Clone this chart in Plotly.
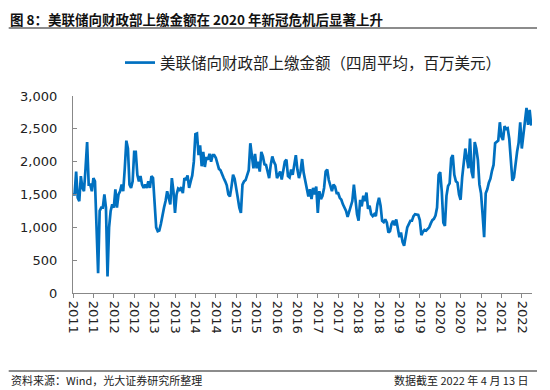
import pandas as pd
import plotly.graph_objects as go

title_text = "图 8：美联储向财政部上缴金额在 2020 年新冠危机后显著上升"
series_name = "美联储向财政部上缴金额（四周平均，百万美元）"
source_text = "资料来源：Wind，光大证券研究所整理"
asof_text = "数据截至 2022 年 4 月 13 日"

start_date = "2011-01-26"
end_date = "2022-04-13"

# biweekly readings (million USD, 4-week average), blocks of 26 points
v2011 = [1500, 1500, 1850, 1450, 1400, 1780, 1600, 1550, 1900, 2300, 1650, 1650, 1550,
         1750, 1700, 800, 300, 1250, 1300, 1300, 1500, 1300, 250, 1000, 1250, 1350]
v2012 = [1300, 1580, 1300, 1500, 1550, 1650, 1550, 1900, 2320, 2200, 1650, 1600, 1700,
         2150, 2150, 1800, 1700, 1780, 1650, 1600, 1650, 1600, 1700, 1600, 1780, 1750]
v2013 = [1400, 1000, 940, 950, 1050, 1200, 1300, 1400, 1550, 1450, 1350, 1750, 1550,
         1220, 1500, 1590, 1570, 1610, 1520, 1750, 1720, 1790, 1600, 1700, 1790, 2000]
v2014 = [2420, 2430, 2100, 2250, 1930, 2150, 1920, 2070, 2030, 2120, 2000, 2100, 2100,
         2060, 1950, 1890, 1870, 1800, 1750, 1700, 1640, 1500, 1470, 1620, 1800, 1740]
v2015 = [1620, 1450, 1300, 1220, 1650, 1700, 1720, 1800, 1870, 2280, 2050, 1900, 2120,
         1900, 2000, 1850, 2150, 2080, 1960, 1950, 1850, 1750, 1950, 2080, 2000, 1950]
v2016 = [1750, 1800, 1850, 1730, 1880, 2000, 2030, 1780, 1760, 1880, 1800, 1950, 2100,
         1880, 1750, 1850, 2040, 1830, 1700, 1600, 1470, 1580, 1430, 1600, 1500, 1620]
v2017 = [1220, 1550, 1430, 1480, 1600, 1850, 1880, 1720, 1620, 1550, 1650, 1620, 1520,
         1520, 1450, 1420, 1350, 1300, 1250, 1160, 1230, 1330, 1400, 1650, 1400, 1200]
v2018 = [1100, 1420, 1320, 1480, 1400, 1530, 1280, 1330, 1200, 1170, 1200, 1170, 1350,
         1450, 1330, 1100, 1080, 1120, 1070, 920, 940, 1050, 1100, 1030, 1120, 950]
v2019 = [850, 920, 780, 720, 880, 1000, 1050, 1100, 1100, 1170, 1200, 1200, 1190,
         1110, 880, 930, 960, 950, 970, 1000, 1060, 1110, 1130, 1180, 1300, 1800]
v2020 = [1840, 1550, 1070, 1020, 1480, 1630, 1670, 2050, 2100, 1800, 1700, 1680, 1500,
         1420, 1760, 1950, 2200, 2050, 1900, 2350, 1850, 1750, 2300, 2200, 2030, 1650]
v2021 = [1520, 1200, 850, 1520, 1580, 1680, 1740, 1860, 1950, 2280, 2300, 2320, 2600,
         2380, 2330, 2540, 2500, 2510, 2350, 1950, 1710, 1760, 1980, 2150, 2290, 2600]
v2022 = [2200, 2430, 2680, 2820, 2560, 2790, 2550]

tick_labels = ["2011", "2011", "2012", "2012", "2013", "2013", "2014", "2014",
               "2015", "2015", "2016", "2016", "2017", "2017", "2018", "2018",
               "2019", "2019", "2020", "2020", "2021", "2021", "2022"]

values = (v2011 + v2012 + v2013 + v2014 + v2015 + v2016 + v2017 + v2018
          + v2019 + v2020 + v2021 + v2022)
dates = pd.date_range(start_date, periods=len(values), freq="14D")
tick_pos = pd.date_range(start_date, periods=len(tick_labels), freq="182D")

# page body has an 8px margin: the figure starts at (8, 8) in the window
OFF = 8
W, H = 550 - OFF, 390 - OFF
# plot area in window pixels: x 73..532, y 96..293
AX0, AX1, AY0, AY1 = 73, 532, 96, 293
PL, PT = AX0 - OFF, AY0 - OFF
PR, PB = W - (AX1 - OFF), H - (AY1 - OFF)
pw, ph = AX1 - AX0, AY1 - AY0


def px2x(px):
    return (px - AX0) / pw


def py2y(py):
    return (AY1 - py) / ph


CJK = "Noto Sans CJK SC"
NUM = "DejaVu Sans"

fig = go.Figure()
fig.add_trace(go.Scatter(
    x=dates, y=values, mode="lines", name=series_name,
    line=dict(color="#0070C0", width=2.7), showlegend=True,
))

fig.update_layout(
    width=W, height=H,
    margin=dict(l=PL, r=PR, t=PT, b=PB, autoexpand=False),
    paper_bgcolor="white", plot_bgcolor="white",
    showlegend=True,
    legend=dict(
        orientation="h", x=px2x(120), xanchor="left", y=py2y(63), yanchor="middle",
        font=dict(family=CJK, size=15.5, color="#222"), bgcolor="rgba(0,0,0,0)",
    ),
    xaxis=dict(
        range=[pd.Timestamp(start_date), pd.Timestamp(end_date)],
        tickmode="array", tickvals=tick_pos, ticktext=tick_labels,
        tickangle=90, ticks="outside", ticklen=4, tickcolor="#888", tickwidth=1.2,
        showline=True, linecolor="#888", linewidth=1.3,
        showgrid=False, zeroline=False,
        tickfont=dict(family=NUM, size=13, color="#222"),
    ),
    yaxis=dict(
        range=[0, 3000], tickmode="linear", tick0=0, dtick=500, tickformat=",",
        ticks="inside", ticklen=4, tickcolor="#888", tickwidth=1.2,
        showline=True, linecolor="#888", linewidth=1.3,
        showgrid=False, zeroline=False, ticklabelstandoff=12,
        tickfont=dict(family=NUM, size=13, color="#222"),
    ),
)

fig.add_annotation(
    text="<b>" + title_text + "</b>", xref="paper", yref="paper",
    x=px2x(8.7), y=py2y(OFF), xanchor="left", yanchor="top", showarrow=False,
    borderpad=0, font=dict(family=CJK, size=13.5, color="#111"),
)
fig.add_annotation(
    text=source_text, xref="paper", yref="paper",
    x=px2x(8.7), y=py2y(380), xanchor="left", yanchor="middle", showarrow=False,
    font=dict(family=CJK, size=11, color="#222"),
)
fig.add_annotation(
    text=asof_text, xref="paper", yref="paper",
    x=px2x(531), y=py2y(380), xanchor="right", yanchor="middle", showarrow=False,
    font=dict(family=CJK, size=11, color="#222"),
)
for yy in (28, 371):
    fig.add_shape(type="line", xref="paper", yref="paper",
                  x0=px2x(8.7), x1=px2x(537), y0=py2y(yy), y1=py2y(yy),
                  line=dict(color="#666", width=1.3))

fig.write_html("out.html")
